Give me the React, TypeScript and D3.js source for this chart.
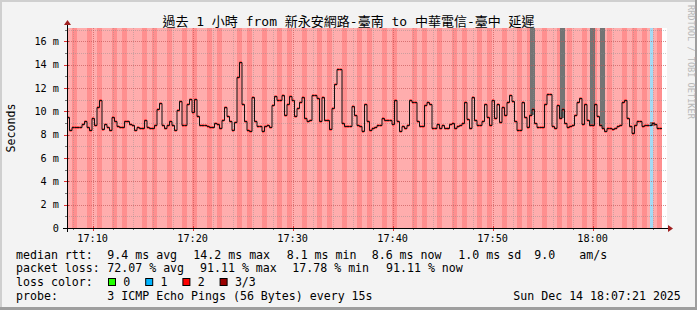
import React from 'react';
import * as d3 from 'd3';

const W = 697;
const H = 310;
const START = new Date(2025, 11, 14, 17, 7, 26);
const SPAN_S = 3600;
const STEP_S = 15;
const Y_MAX = 17.15;

// median rtt in ms, one value per 15 s step
const medianMs = [
  9.5, 8.4, 8.65, 8.65, 8.7, 8.7, 8.9, 9.15, 8.7, 8.4,
  9.4, 8.8, 10.4, 11.0, 8.5, 8.9, 8.7, 8.4, 9.5, 9.2,
  8.75, 8.7, 8.7, 9.15, 9.15, 8.9, 8.87, 8.44, 8.65, 8.55,
  8.55, 9.25, 8.7, 8.55, 8.55, 8.8, 10.2, 10.7, 8.87, 8.55,
  8.87, 9.16, 8.8, 8.44, 10.1, 10.9, 8.87, 8.87, 10.6, 11.1,
  9.96, 11.1, 9.6, 8.87, 8.87, 8.87, 8.72, 8.65, 8.65, 9.0,
  8.9, 8.58, 9.3, 10.35, 9.58, 9.16, 8.44, 9.07, 12.93, 14.2,
  10.6, 9.16, 8.44, 8.35, 11.25, 9.2, 8.72, 8.72, 8.3, 8.72,
  8.8, 8.65, 10.53, 11.3, 11.0, 10.95, 11.44, 9.73, 10.64, 11.3,
  11.0, 9.58, 10.3, 10.81, 11.2, 9.44, 9.2, 9.3, 11.38, 11.38,
  11.16, 9.2, 11.25, 9.3, 9.3, 8.5, 10.3, 12.36, 13.6, 13.6,
  9.0, 8.72, 8.72, 8.72, 10.45, 9.67, 8.87, 8.72, 8.3, 10.6,
  9.2, 8.44, 8.55, 8.65, 8.87, 8.8, 9.44, 9.25, 9.25, 9.25,
  8.9, 10.95, 9.16, 8.35, 8.72, 8.55, 8.8, 11.0, 10.78, 10.78,
  9.2, 8.72, 8.72, 10.53, 10.78, 10.67, 8.55, 8.55, 8.9, 8.55,
  8.8, 8.58, 8.55, 8.9, 9.0, 8.55, 8.72, 8.8, 9.0, 10.78,
  9.35, 8.55, 11.2, 9.3, 8.8, 8.8, 9.2, 10.64, 9.5, 8.8,
  10.95, 9.44, 10.6, 9.1, 10.35, 9.67, 10.78, 11.44, 10.87, 9.2,
  8.44, 8.44, 10.78, 9.5, 8.65, 9.73, 10.2, 9.0, 8.65, 8.65,
  8.7, 10.67, 11.5, 11.5, 8.75, 8.58, 10.53, 9.44, 10.2, 9.0,
  8.65, 8.72, 8.8, 9.67, 10.8, 11.16, 8.9, 10.6, 9.3, 8.8,
  8.87, 10.67, 9.58, 8.87, 8.55, 8.35, 8.58, 8.58, 8.5, 8.55,
  8.72, 8.8, 10.81, 11.0, 9.44, 8.72, 8.15, 8.8, 9.16, 9.16,
  8.72, 8.8, 8.8, 8.8, 9.0, 8.9, 8.6, 8.6,
];

// loss background per 30 s bin: 2 = lighter, 3 = darker
const lossBins = [
  2, 3, 2, 2, 3, 2, 3, 2, 2, 3, 2, 3, 2, 2, 2, 3, 2, 3, 2, 2,
  3, 2, 2, 3, 2, 3, 2, 2, 3, 2, 3, 2, 2, 2, 3, 2, 3, 2, 2, 3,
  2, 2, 3, 2, 3, 2, 2, 3, 2, 2, 3, 2, 3, 2, 2, 3, 2, 2, 3, 2,
  3, 2, 2, 3, 2, 3, 2, 2, 2, 3, 2, 3, 2, 2, 3, 2, 2, 3, 2, 3,
  2, 2, 3, 2, 3, 2, 2, 3, 2, 2, 3, 2, 3, 2, 2, 3, 2, 2, 3, 2,
  3, 2, 2, 3, 2, 3, 2, 2, 3, 2, 2, 3, 2, 3, 2, 3, 2, 2, 3,
];
// steps (15 s) where only one ping was lost
const oneLossSteps = [233];

// smoke (ping spread) on a few steps, in ms
const smokeSteps = [185, 186, 197, 198, 209, 210, 213, 214, 233, 234];
const smokeLow = [9.73, 9.73, 9.44, 9.44, 8.8, 8.8, 8.87, 8.55, 8.75, 8.75];
const smokeHigh = [30, 30, 30, 30, 30, 30, 30, 30, 9.05, 9.05];

const legendColors = ['#22ff00', '#00b4ff', '#ff0000', '#9a0000'];
const legendLabels = ['0', '1', '2', '3/3'];

const MONO = "'DejaVu Sans Mono', 'Noto Sans CJK TC', monospace";

export default function App() {
  const x0 = 67, x1 = 667, yTop = 28, yBot = 228;
  const end = new Date(START.getTime() + SPAN_S * 1000);
  const x = d3.scaleTime().domain([START, end]).range([x0, x1]);
  const y = d3.scaleLinear().domain([0, Y_MAX]).range([yBot, yTop]);
  const tAt = (i: number) => new Date(START.getTime() + i * STEP_S * 1000);

  const minorX = d3.timeMinute.every(2)!.range(START, end);
  const majorX = d3.timeMinute.every(10)!.range(START, end);
  const fmt = d3.timeFormat('%H:%M');
  const minorY = d3.range(1, 18);
  const majorY = d3.range(0, 18, 2);

  const pts: [Date, number][] = medianMs.map((v, i) => [tAt(i), v]);
  pts.push([tAt(medianMs.length), medianMs[medianMs.length - 1]]);
  const line = d3.line<[Date, number]>().x(d => x(d[0])).y(d => Math.round(y(d[1])) + 0.5).curve(d3.curveStepAfter);

  const lossFill = (l: number) => (l === 1 ? '#a4daf4' : l === 3 ? '#ff8f8f' : '#ffadad');

  const legendLines = [
    { y: 258.5, items: [[16, 'median rtt:'], [107.3, '9.4 ms avg'], [193.3, '14.2 ms max'], [286.7, '8.1 ms min'], [371.7, '8.6 ms now'], [458.3, '1.0 ms sd'], [534.3, '9.0'], [579.3, 'am/s']] },
    { y: 272.3, items: [[16, 'packet loss:'], [107.3, '72.07 % avg'], [200, '91.11 % max'], [292.3, '17.78 % min'], [386, '91.11 % now']] },
    { y: 286, items: [[16, 'loss color:']] },
    { y: 299.5, items: [[16, 'probe:'], [107.3, '3 ICMP Echo Pings (56 Bytes) every 15s'], [513.3, 'Sun Dec 14 18:07:21 2025']] },
  ];

  return (
    <div style={{ position: 'absolute', left: 0, top: 0 }}>
      <svg width={W} height={H} xmlns="http://www.w3.org/2000/svg" style={{ display: 'block' }}>
        <rect x={0} y={0} width={W} height={H} fill="#f3f3f3" />
        <rect x={0} y={0} width={W} height={2} fill="#cfcfcf" />
        <rect x={0} y={0} width={2} height={H} fill="#cfcfcf" />
        <rect x={W - 2} y={0} width={2} height={H} fill="#9e9e9e" />
        <rect x={0} y={H - 3} width={W} height={3} fill="#9e9e9e" />

        <text x={348.5} y={26} fontFamily={MONO} fontSize={13} textAnchor="middle" fill="#000">
          過去 1 小時 from 新永安網路-臺南 to 中華電信-臺中 延遲
        </text>

        <text transform={`translate(688,5) rotate(90)`} fontFamily={MONO} fontSize={8.6} fill="#b8b8b8" textAnchor="start">
          RRDTOOL / TOBI OETIKER
        </text>

        <text transform={`translate(15,128) rotate(-90)`} fontFamily={MONO} fontSize={11.6} textAnchor="middle" fill="#000">
          Seconds
        </text>

        {/* canvas */}
        <rect x={x0} y={yTop} width={x1 - x0} height={yBot - yTop} fill="#ffffff" />

        {/* loss background */}
        <g shapeRendering="crispEdges">
          {lossBins.map((l, b) => (
            <rect key={b} x={x(tAt(2 * b))} y={yTop} width={x(tAt(2 * b + 2)) - x(tAt(2 * b))} height={yBot - yTop} fill={lossFill(l)} />
          ))}
          {oneLossSteps.map(s => (
            <rect key={'b' + s} x={x(tAt(s))} y={yTop} width={x(tAt(s + 1)) - x(tAt(s)) + 0.5} height={yBot - yTop} fill={lossFill(1)} />
          ))}
        </g>

        {/* smoke */}
        <g shapeRendering="crispEdges">
          {smokeSteps.map((s, k) => {
            const top = y(Math.min(smokeHigh[k], Y_MAX));
            return <rect key={k} x={x(tAt(s))} y={top} width={x(tAt(s + 1)) - x(tAt(s))} height={y(smokeLow[k]) - top} fill="#747474" />;
          })}
        </g>

        {/* grid */}
        <g shapeRendering="crispEdges">
          {minorY.map(v => (
            <line key={'hy' + v} x1={x0} x2={x1} y1={Math.round(y(v)) + 0.5} y2={Math.round(y(v)) + 0.5} stroke="rgba(140,140,140,0.45)" strokeDasharray="1,1" />
          ))}
          {minorX.map((t, k) => (
            <line key={'vx' + k} x1={Math.round(x(t)) + 0.5} x2={Math.round(x(t)) + 0.5} y1={yTop} y2={yBot} stroke="rgba(140,140,140,0.4)" strokeDasharray="1,1" />
          ))}
          {majorY.filter(v => v > 0).map(v => (
            <line key={'My' + v} x1={x0} x2={x1} y1={Math.round(y(v)) + 0.5} y2={Math.round(y(v)) + 0.5} stroke="rgba(230,60,60,0.45)" strokeDasharray="1,1" />
          ))}
          {majorX.map((t, k) => (
            <line key={'Mx' + k} x1={Math.round(x(t)) + 0.5} x2={Math.round(x(t)) + 0.5} y1={yTop} y2={yBot} stroke="rgba(230,60,60,0.45)" strokeDasharray="1,1" />
          ))}
        </g>

        {/* median markers */}
        <g>
          {medianMs.map((v, i) => (
            <rect key={i} x={x(tAt(i))} y={Math.round(y(v)) - 0.5} width={2.2} height={2} fill={oneLossSteps.includes(i) ? '#00b4ff' : '#ff0000'} />
          ))}
        </g>
        <path d={line(pts) || ''} fill="none" stroke="#111" strokeWidth={1} />

        {/* axes */}
        <g shapeRendering="crispEdges">
          {minorX.map((t, k) => (
            <line key={'tx' + k} x1={Math.round(x(t)) + 0.5} x2={Math.round(x(t)) + 0.5} y1={yBot} y2={yBot + 2} stroke="#777" />
          ))}
          {majorX.map((t, k) => (
            <line key={'tX' + k} x1={Math.round(x(t)) + 0.5} x2={Math.round(x(t)) + 0.5} y1={yBot - 2} y2={yBot + 3} stroke="#e03030" />
          ))}
          {minorY.map(v => (
            <line key={'ty' + v} x1={x0 - 2} x2={x0} y1={Math.round(y(v)) + 0.5} y2={Math.round(y(v)) + 0.5} stroke="#777" />
          ))}
          {majorY.map(v => (
            <line key={'tY' + v} x1={x0 - 3} x2={x0 + 2} y1={Math.round(y(v)) + 0.5} y2={Math.round(y(v)) + 0.5} stroke="#e03030" />
          ))}
          <line x1={x0 - 4} x2={x1 + 1} y1={yBot + 0.5} y2={yBot + 0.5} stroke="#000" />
          <line x1={x0 + 0.5} x2={x0 + 0.5} y1={yBot + 4} y2={yTop - 4} stroke="#000" />
        </g>
        <path d={`M${x1 + 1},${yBot - 3} L${x1 + 6},${yBot + 0.5} L${x1 + 1},${yBot + 4} Z`} fill="#a02020" />
        <path d={`M${x0 - 3},${yTop - 3} L${x0 + 0.5},${yTop - 8} L${x0 + 4},${yTop - 3} Z`} fill="#a02020" />

        {/* tick labels */}
        {majorY.map(v => (
          <text key={'ly' + v} x={59} y={y(v) + 3.5} fontFamily={MONO} fontSize={10.2} textAnchor="end" fill="#000">
            {v === 0 ? '0' : `${v} m`}
          </text>
        ))}
        {majorX.map((t, k) => (
          <text key={'lx' + k} x={x(t)} y={241.5} fontFamily={MONO} fontSize={10.2} textAnchor="middle" fill="#000">
            {fmt(t)}
          </text>
        ))}

        {/* legend */}
        {legendLines.map((ln, r) =>
          ln.items.map((it, c) => (
            <text key={r + '-' + c} x={it[0] as number} y={ln.y} fontFamily={MONO} fontSize={11.6} fill="#000" xmlSpace="preserve">
              {it[1] as string}
            </text>
          ))
        )}
        {legendColors.map((col, k) => {
          const bx = 108.5 + k * 37.2;
          return (
            <g key={'lg' + k}>
              <rect x={bx} y={278.5} width={7} height={7} fill={col} stroke="#000" strokeWidth={1} />
              <text x={bx + 14.8} y={286} fontFamily={MONO} fontSize={11.6} fill="#000">
                {legendLabels[k]}
              </text>
            </g>
          );
        })}
      </svg>
    </div>
  );
}
